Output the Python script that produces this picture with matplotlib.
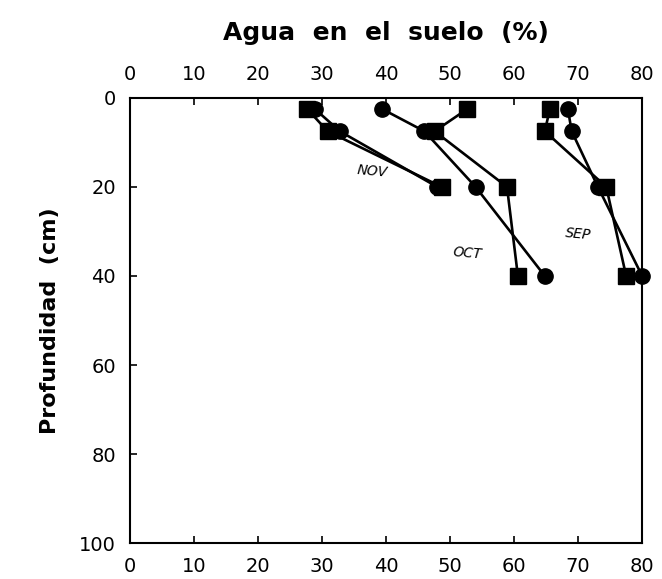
import matplotlib
matplotlib.use("Agg")
import matplotlib.pyplot as plt

depth = [2.5, 7.5, 20, 40]

nov_sq = [27.7, 30.9, 48.7]
nov_ci = [28.9, 32.8, 48.0]
oct_sq = [52.7, 47.6, 58.9, 60.6]
oct_ci = [39.4, 46.0, 54.0, 64.8]
sep_sq = [65.6, 64.8, 74.4, 77.5]
sep_ci = [68.4, 69.0, 73.1, 80.0]

x_ticks = [0, 10, 20, 30, 40, 50, 60, 70, 80]
y_ticks = [0, 20, 40, 60, 80, 100]

labels = [("NOV", 37.8, 16.6), ("OCT", 52.7, 35.0), ("SEP", 70.0, 30.5)]

plt.rcParams['font.family'] = ['DejaVu Sans']
fig = plt.figure(figsize=(6.62, 5.79), dpi=100)
ax = fig.add_axes([0.196, 0.062, 0.774, 0.769])

kw = dict(color='black', lw=1.9, ms=11, clip_on=False, zorder=3)
ax.plot(nov_ci, depth[:3], marker='o', **kw)
ax.plot(nov_sq, depth[:3], marker='s', **kw)
ax.plot(oct_ci, depth, marker='o', **kw)
ax.plot(oct_sq, depth, marker='s', **kw)
ax.plot(sep_sq, depth, marker='s', **kw)
ax.plot(sep_ci, depth, marker='o', **kw)

for txt, x, y in labels:
    ax.text(x, y, txt, fontsize=10, style='italic', ha='center', va='center',
            rotation=-5)

ax.set_xlim(0, 80)
ax.set_ylim(100, 0)
ax.set_xticks(x_ticks)
ax.set_yticks(y_ticks)
ax.tick_params(axis='both', direction='in', length=5, width=1.2, labelsize=14,
               pad=10)
ax.tick_params(axis='x', top=True, labeltop=True, bottom=True, labelbottom=True)
for s in ax.spines.values():
    s.set_linewidth(1.5)

ax.set_xlabel("Agua  en  el  suelo  (%)", fontsize=18, fontweight='heavy',
              labelpad=18)
ax.xaxis.set_label_position('top')
ax.set_ylabel("Profundidad  (cm)", fontsize=16, fontweight='heavy', labelpad=14)

fig.savefig("out.png", dpi=100)
